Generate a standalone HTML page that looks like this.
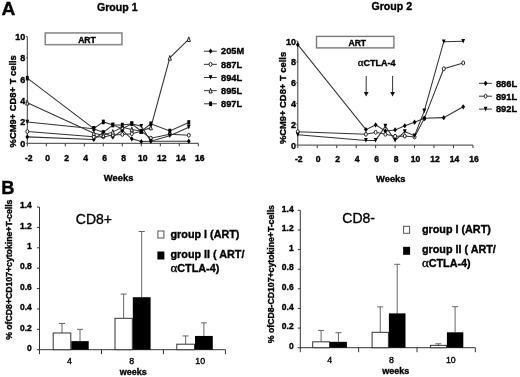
<!DOCTYPE html>
<html><head><meta charset="utf-8"><style>
html,body{margin:0;padding:0;background:#fff;}
svg{display:block;filter:grayscale(1);}
text{font-family:"Liberation Sans", sans-serif;fill:#000;stroke:#000;stroke-width:0.35px;}
</style></head><body>
<svg width="520" height="377" viewBox="0 0 520 377">
<rect width="520" height="377" fill="#fff"/>
<text x="1.50" y="14.60" font-size="19.2" font-weight="bold" text-anchor="start" >A</text>
<text x="1.20" y="193.80" font-size="18.3" font-weight="bold" text-anchor="start" >B</text>
<text x="117.30" y="10.80" font-size="10.6" font-weight="bold" text-anchor="middle" >Group 1</text>
<path d="M27.30 36.50V143.30H198.30" fill="none" stroke="#3a3a3a" stroke-width="1"/>
<path d="M27.30 143.30v3" stroke="#3a3a3a" stroke-width="1"/>
<path d="M46.30 143.30v3" stroke="#3a3a3a" stroke-width="1"/>
<path d="M65.30 143.30v3" stroke="#3a3a3a" stroke-width="1"/>
<path d="M84.30 143.30v3" stroke="#3a3a3a" stroke-width="1"/>
<path d="M103.30 143.30v3" stroke="#3a3a3a" stroke-width="1"/>
<path d="M122.30 143.30v3" stroke="#3a3a3a" stroke-width="1"/>
<path d="M141.30 143.30v3" stroke="#3a3a3a" stroke-width="1"/>
<path d="M160.30 143.30v3" stroke="#3a3a3a" stroke-width="1"/>
<path d="M179.30 143.30v3" stroke="#3a3a3a" stroke-width="1"/>
<path d="M198.30 143.30v3" stroke="#3a3a3a" stroke-width="1"/>
<path d="M25.80 143.30h1.5" stroke="#555" stroke-width="1"/>
<path d="M25.80 121.94h1.5" stroke="#555" stroke-width="1"/>
<path d="M25.80 100.58h1.5" stroke="#555" stroke-width="1"/>
<path d="M25.80 79.22h1.5" stroke="#555" stroke-width="1"/>
<path d="M25.80 57.86h1.5" stroke="#555" stroke-width="1"/>
<path d="M25.80 36.50h1.5" stroke="#555" stroke-width="1"/>
<text transform="translate(25.20 146.80) scale(1 1.1)" font-size="9.0" font-weight="bold" text-anchor="end" >0</text>
<text transform="translate(25.20 125.44) scale(1 1.1)" font-size="9.0" font-weight="bold" text-anchor="end" >2</text>
<text transform="translate(25.20 104.08) scale(1 1.1)" font-size="9.0" font-weight="bold" text-anchor="end" >4</text>
<text transform="translate(25.20 82.72) scale(1 1.1)" font-size="9.0" font-weight="bold" text-anchor="end" >6</text>
<text transform="translate(25.20 61.36) scale(1 1.1)" font-size="9.0" font-weight="bold" text-anchor="end" >8</text>
<text transform="translate(25.20 40.00) scale(1 1.1)" font-size="9.0" font-weight="bold" text-anchor="end" >10</text>
<text transform="translate(28.70 160.70) scale(1 1.15)" font-size="8.6" font-weight="bold" text-anchor="middle" >-2</text>
<text transform="translate(47.70 160.70) scale(1 1.15)" font-size="8.6" font-weight="bold" text-anchor="middle" >0</text>
<text transform="translate(66.70 160.70) scale(1 1.15)" font-size="8.6" font-weight="bold" text-anchor="middle" >2</text>
<text transform="translate(85.70 160.70) scale(1 1.15)" font-size="8.6" font-weight="bold" text-anchor="middle" >4</text>
<text transform="translate(104.70 160.70) scale(1 1.15)" font-size="8.6" font-weight="bold" text-anchor="middle" >6</text>
<text transform="translate(123.70 160.70) scale(1 1.15)" font-size="8.6" font-weight="bold" text-anchor="middle" >8</text>
<text transform="translate(142.70 160.70) scale(1 1.15)" font-size="8.6" font-weight="bold" text-anchor="middle" >10</text>
<text transform="translate(161.70 160.70) scale(1 1.15)" font-size="8.6" font-weight="bold" text-anchor="middle" >12</text>
<text transform="translate(180.70 160.70) scale(1 1.15)" font-size="8.6" font-weight="bold" text-anchor="middle" >14</text>
<text transform="translate(199.70 160.70) scale(1 1.15)" font-size="8.6" font-weight="bold" text-anchor="middle" >16</text>
<text x="118.60" y="180.50" font-size="9.4" font-weight="bold" text-anchor="middle" >Weeks</text>
<text transform="translate(15.5 101.3) rotate(-90)" x="0" y="0" font-size="9.4" font-weight="bold" text-anchor="middle">%CM9+ CD8+ T cells</text>
<rect x="45.25" y="32.95" width="76.7" height="11.7" fill="#fff" stroke="#8a8a8a" stroke-width="1.6"/>
<text x="87.00" y="42.60" font-size="8.6" font-weight="bold" text-anchor="middle" >ART</text>
<path d="M27.30 136.89L93.80 139.46L103.30 132.30L112.80 136.89L122.30 130.48L131.80 138.81L141.30 141.48L150.80 141.16L188.80 141.16" fill="none" stroke="#333" stroke-width="1.05"/>
<path d="M27.30 131.55L93.80 136.68L103.30 136.89L112.80 134.97L122.30 134.44L131.80 133.79L141.30 131.23L150.80 138.17L169.80 134.22L188.80 135.29" fill="none" stroke="#333" stroke-width="1.05"/>
<path d="M27.30 121.94L93.80 128.67L103.30 132.51L112.80 125.04L122.30 128.78L131.80 123.76L141.30 126.21L150.80 141.16L169.80 135.82L188.80 127.28" fill="none" stroke="#333" stroke-width="1.05"/>
<path d="M27.30 102.72L93.80 133.15L103.30 135.29L112.80 131.87L122.30 127.28L131.80 129.42L141.30 131.23L150.80 127.49L169.80 57.86L188.80 39.17" fill="none" stroke="#333" stroke-width="1.05"/>
<path d="M27.30 78.15L93.80 128.67L103.30 121.94L112.80 125.04L122.30 125.04L131.80 123.76L141.30 131.23L150.80 123.76L169.80 131.02L188.80 122.47" fill="none" stroke="#333" stroke-width="1.05"/>
<path d="M27.30 134.29L29.15 136.89L27.30 139.49L25.45 136.89Z" fill="#000"/>
<path d="M93.80 136.86L95.65 139.46L93.80 142.06L91.95 139.46Z" fill="#000"/>
<path d="M103.30 129.70L105.15 132.30L103.30 134.90L101.45 132.30Z" fill="#000"/>
<path d="M112.80 134.29L114.65 136.89L112.80 139.49L110.95 136.89Z" fill="#000"/>
<path d="M122.30 127.88L124.15 130.48L122.30 133.08L120.45 130.48Z" fill="#000"/>
<path d="M131.80 136.21L133.65 138.81L131.80 141.41L129.95 138.81Z" fill="#000"/>
<path d="M141.30 138.88L143.15 141.48L141.30 144.08L139.45 141.48Z" fill="#000"/>
<path d="M150.80 138.56L152.65 141.16L150.80 143.76L148.95 141.16Z" fill="#000"/>
<path d="M188.80 138.56L190.65 141.16L188.80 143.76L186.95 141.16Z" fill="#000"/>
<ellipse cx="27.30" cy="131.55" rx="1.45" ry="1.95" fill="#fff" stroke="#222" stroke-width="1"/>
<ellipse cx="93.80" cy="136.68" rx="1.45" ry="1.95" fill="#fff" stroke="#222" stroke-width="1"/>
<ellipse cx="103.30" cy="136.89" rx="1.45" ry="1.95" fill="#fff" stroke="#222" stroke-width="1"/>
<ellipse cx="112.80" cy="134.97" rx="1.45" ry="1.95" fill="#fff" stroke="#222" stroke-width="1"/>
<ellipse cx="122.30" cy="134.44" rx="1.45" ry="1.95" fill="#fff" stroke="#222" stroke-width="1"/>
<ellipse cx="131.80" cy="133.79" rx="1.45" ry="1.95" fill="#fff" stroke="#222" stroke-width="1"/>
<ellipse cx="141.30" cy="131.23" rx="1.45" ry="1.95" fill="#fff" stroke="#222" stroke-width="1"/>
<ellipse cx="150.80" cy="138.17" rx="1.45" ry="1.95" fill="#fff" stroke="#222" stroke-width="1"/>
<ellipse cx="169.80" cy="134.22" rx="1.45" ry="1.95" fill="#fff" stroke="#222" stroke-width="1"/>
<ellipse cx="188.80" cy="135.29" rx="1.45" ry="1.95" fill="#fff" stroke="#222" stroke-width="1"/>
<path d="M25.45 119.64L29.15 119.64L27.30 124.24Z" fill="#000"/>
<path d="M91.95 126.37L95.65 126.37L93.80 130.97Z" fill="#000"/>
<path d="M101.45 130.21L105.15 130.21L103.30 134.81Z" fill="#000"/>
<path d="M110.95 122.74L114.65 122.74L112.80 127.34Z" fill="#000"/>
<path d="M120.45 126.48L124.15 126.48L122.30 131.08Z" fill="#000"/>
<path d="M129.95 121.46L133.65 121.46L131.80 126.06Z" fill="#000"/>
<path d="M139.45 123.91L143.15 123.91L141.30 128.51Z" fill="#000"/>
<path d="M148.95 138.86L152.65 138.86L150.80 143.46Z" fill="#000"/>
<path d="M167.95 133.52L171.65 133.52L169.80 138.12Z" fill="#000"/>
<path d="M186.95 124.98L190.65 124.98L188.80 129.58Z" fill="#000"/>
<path d="M27.30 100.42L28.90 105.02L25.70 105.02Z" fill="#fff" stroke="#222" stroke-width="1"/>
<path d="M93.80 130.85L95.40 135.45L92.20 135.45Z" fill="#fff" stroke="#222" stroke-width="1"/>
<path d="M103.30 132.99L104.90 137.59L101.70 137.59Z" fill="#fff" stroke="#222" stroke-width="1"/>
<path d="M112.80 129.57L114.40 134.17L111.20 134.17Z" fill="#fff" stroke="#222" stroke-width="1"/>
<path d="M122.30 124.98L123.90 129.58L120.70 129.58Z" fill="#fff" stroke="#222" stroke-width="1"/>
<path d="M131.80 127.12L133.40 131.72L130.20 131.72Z" fill="#fff" stroke="#222" stroke-width="1"/>
<path d="M141.30 128.93L142.90 133.53L139.70 133.53Z" fill="#fff" stroke="#222" stroke-width="1"/>
<path d="M150.80 125.19L152.40 129.79L149.20 129.79Z" fill="#fff" stroke="#222" stroke-width="1"/>
<path d="M169.80 55.56L171.40 60.16L168.20 60.16Z" fill="#fff" stroke="#222" stroke-width="1"/>
<path d="M188.80 36.87L190.40 41.47L187.20 41.47Z" fill="#fff" stroke="#222" stroke-width="1"/>
<rect x="25.85" y="75.85" width="2.90" height="4.60" fill="#000"/>
<rect x="92.35" y="126.37" width="2.90" height="4.60" fill="#000"/>
<rect x="101.85" y="119.64" width="2.90" height="4.60" fill="#000"/>
<rect x="111.35" y="122.74" width="2.90" height="4.60" fill="#000"/>
<rect x="120.85" y="122.74" width="2.90" height="4.60" fill="#000"/>
<rect x="130.35" y="121.46" width="2.90" height="4.60" fill="#000"/>
<rect x="139.85" y="128.93" width="2.90" height="4.60" fill="#000"/>
<rect x="149.35" y="121.46" width="2.90" height="4.60" fill="#000"/>
<rect x="168.35" y="128.72" width="2.90" height="4.60" fill="#000"/>
<rect x="187.35" y="120.17" width="2.90" height="4.60" fill="#000"/>
<path d="M204 51.20H216.8" stroke="#333" stroke-width="1"/>
<path d="M210.60 48.60L212.45 51.20L210.60 53.80L208.75 51.20Z" fill="#000"/>
<text transform="translate(221.00 54.40) scale(1 1.06)" font-size="9.3" font-weight="bold" text-anchor="start" >205M</text>
<path d="M204 64.35H216.8" stroke="#333" stroke-width="1"/>
<ellipse cx="210.60" cy="64.35" rx="1.45" ry="1.95" fill="#fff" stroke="#222" stroke-width="1"/>
<text transform="translate(221.00 67.55) scale(1 1.06)" font-size="9.3" font-weight="bold" text-anchor="start" >887L</text>
<path d="M204 77.50H216.8" stroke="#333" stroke-width="1"/>
<path d="M208.75 75.20L212.45 75.20L210.60 79.80Z" fill="#000"/>
<text transform="translate(221.00 80.70) scale(1 1.06)" font-size="9.3" font-weight="bold" text-anchor="start" >894L</text>
<path d="M204 90.65H216.8" stroke="#333" stroke-width="1"/>
<path d="M210.60 88.35L212.20 92.95L209.00 92.95Z" fill="#fff" stroke="#222" stroke-width="1"/>
<text transform="translate(221.00 93.85) scale(1 1.06)" font-size="9.3" font-weight="bold" text-anchor="start" >895L</text>
<path d="M204 103.80H216.8" stroke="#333" stroke-width="1"/>
<rect x="209.15" y="101.50" width="2.90" height="4.60" fill="#000"/>
<text transform="translate(221.00 107.00) scale(1 1.06)" font-size="9.3" font-weight="bold" text-anchor="start" >897L</text>
<text x="391.80" y="9.80" font-size="10.6" font-weight="bold" text-anchor="middle" >Group 2</text>
<path d="M297.80 41.10V145.10H472.94" fill="none" stroke="#3a3a3a" stroke-width="1"/>
<path d="M297.80 145.10v3" stroke="#3a3a3a" stroke-width="1"/>
<path d="M317.26 145.10v3" stroke="#3a3a3a" stroke-width="1"/>
<path d="M336.72 145.10v3" stroke="#3a3a3a" stroke-width="1"/>
<path d="M356.18 145.10v3" stroke="#3a3a3a" stroke-width="1"/>
<path d="M375.64 145.10v3" stroke="#3a3a3a" stroke-width="1"/>
<path d="M395.10 145.10v3" stroke="#3a3a3a" stroke-width="1"/>
<path d="M414.56 145.10v3" stroke="#3a3a3a" stroke-width="1"/>
<path d="M434.02 145.10v3" stroke="#3a3a3a" stroke-width="1"/>
<path d="M453.48 145.10v3" stroke="#3a3a3a" stroke-width="1"/>
<path d="M472.94 145.10v3" stroke="#3a3a3a" stroke-width="1"/>
<path d="M296.30 145.10h1.5" stroke="#555" stroke-width="1"/>
<path d="M296.30 124.30h1.5" stroke="#555" stroke-width="1"/>
<path d="M296.30 103.50h1.5" stroke="#555" stroke-width="1"/>
<path d="M296.30 82.70h1.5" stroke="#555" stroke-width="1"/>
<path d="M296.30 61.90h1.5" stroke="#555" stroke-width="1"/>
<path d="M296.30 41.10h1.5" stroke="#555" stroke-width="1"/>
<text transform="translate(295.90 148.60) scale(1 1.1)" font-size="9.0" font-weight="bold" text-anchor="end" >0</text>
<text transform="translate(295.90 127.80) scale(1 1.1)" font-size="9.0" font-weight="bold" text-anchor="end" >2</text>
<text transform="translate(295.90 107.00) scale(1 1.1)" font-size="9.0" font-weight="bold" text-anchor="end" >4</text>
<text transform="translate(295.90 86.20) scale(1 1.1)" font-size="9.0" font-weight="bold" text-anchor="end" >6</text>
<text transform="translate(295.90 65.40) scale(1 1.1)" font-size="9.0" font-weight="bold" text-anchor="end" >8</text>
<text transform="translate(295.90 44.60) scale(1 1.1)" font-size="9.0" font-weight="bold" text-anchor="end" >10</text>
<text transform="translate(298.80 162.40) scale(1 1.15)" font-size="8.6" font-weight="bold" text-anchor="middle" >-2</text>
<text transform="translate(318.26 162.40) scale(1 1.15)" font-size="8.6" font-weight="bold" text-anchor="middle" >0</text>
<text transform="translate(337.72 162.40) scale(1 1.15)" font-size="8.6" font-weight="bold" text-anchor="middle" >2</text>
<text transform="translate(357.18 162.40) scale(1 1.15)" font-size="8.6" font-weight="bold" text-anchor="middle" >4</text>
<text transform="translate(376.64 162.40) scale(1 1.15)" font-size="8.6" font-weight="bold" text-anchor="middle" >6</text>
<text transform="translate(396.10 162.40) scale(1 1.15)" font-size="8.6" font-weight="bold" text-anchor="middle" >8</text>
<text transform="translate(415.56 162.40) scale(1 1.15)" font-size="8.6" font-weight="bold" text-anchor="middle" >10</text>
<text transform="translate(435.02 162.40) scale(1 1.15)" font-size="8.6" font-weight="bold" text-anchor="middle" >12</text>
<text transform="translate(454.48 162.40) scale(1 1.15)" font-size="8.6" font-weight="bold" text-anchor="middle" >14</text>
<text transform="translate(473.94 162.40) scale(1 1.15)" font-size="8.6" font-weight="bold" text-anchor="middle" >16</text>
<text x="390.80" y="181.50" font-size="9.4" font-weight="bold" text-anchor="middle" >Weeks</text>
<text transform="translate(285.5 98.0) rotate(-90)" x="0" y="0" font-size="9.4" font-weight="bold" text-anchor="middle">%CM9+ CD8+ T cells</text>
<rect x="316.5" y="36.4" width="77.4" height="11.5" fill="#fff" stroke="#7a7a7a" stroke-width="1.4"/>
<text x="357.30" y="45.70" font-size="8.6" font-weight="bold" text-anchor="middle" >ART</text>
<text x="357.80" y="66.30" font-size="9.0" font-weight="bold" text-anchor="start" ><tspan style="font-family:'Liberation Serif',serif" font-weight="normal" font-size="11">&#945;</tspan>CTLA-4</text>
<path d="M366.2 76V92" stroke="#333" stroke-width="1"/>
<path d="M363.8 92H368.59999999999997L366.2 96.6Z" fill="#111"/>
<path d="M392.6 76V92" stroke="#333" stroke-width="1"/>
<path d="M390.20000000000005 92H395.0L392.6 96.6Z" fill="#111"/>
<path d="M297.80 44.64L365.91 129.60L375.64 124.92L385.37 130.96L395.10 129.92L404.83 125.76L414.56 122.22L424.29 118.16L443.75 117.64L463.21 106.83" fill="none" stroke="#333" stroke-width="1.05"/>
<path d="M297.80 131.68L365.91 134.28L375.64 132.31L385.37 134.28L395.10 136.26L404.83 136.05L414.56 136.99L424.29 118.58L443.75 68.76L463.21 62.94" fill="none" stroke="#333" stroke-width="1.05"/>
<path d="M297.80 134.70L365.91 140.42L375.64 140.42L385.37 126.17L395.10 140.42L404.83 131.58L414.56 135.74L424.29 110.88L443.75 41.72L463.21 41.31" fill="none" stroke="#333" stroke-width="1.05"/>
<ellipse cx="297.80" cy="131.68" rx="1.45" ry="1.95" fill="#fff" stroke="#222" stroke-width="1"/>
<ellipse cx="365.91" cy="134.28" rx="1.45" ry="1.95" fill="#fff" stroke="#222" stroke-width="1"/>
<ellipse cx="375.64" cy="132.31" rx="1.45" ry="1.95" fill="#fff" stroke="#222" stroke-width="1"/>
<ellipse cx="385.37" cy="134.28" rx="1.45" ry="1.95" fill="#fff" stroke="#222" stroke-width="1"/>
<ellipse cx="395.10" cy="136.26" rx="1.45" ry="1.95" fill="#fff" stroke="#222" stroke-width="1"/>
<ellipse cx="404.83" cy="136.05" rx="1.45" ry="1.95" fill="#fff" stroke="#222" stroke-width="1"/>
<ellipse cx="414.56" cy="136.99" rx="1.45" ry="1.95" fill="#fff" stroke="#222" stroke-width="1"/>
<ellipse cx="424.29" cy="118.58" rx="1.45" ry="1.95" fill="#fff" stroke="#222" stroke-width="1"/>
<ellipse cx="443.75" cy="68.76" rx="1.45" ry="1.95" fill="#fff" stroke="#222" stroke-width="1"/>
<ellipse cx="463.21" cy="62.94" rx="1.45" ry="1.95" fill="#fff" stroke="#222" stroke-width="1"/>
<path d="M295.95 132.40L299.65 132.40L297.80 137.00Z" fill="#000"/>
<path d="M364.06 138.12L367.76 138.12L365.91 142.72Z" fill="#000"/>
<path d="M373.79 138.12L377.49 138.12L375.64 142.72Z" fill="#000"/>
<path d="M383.52 123.87L387.22 123.87L385.37 128.47Z" fill="#000"/>
<path d="M393.25 138.12L396.95 138.12L395.10 142.72Z" fill="#000"/>
<path d="M402.98 129.28L406.68 129.28L404.83 133.88Z" fill="#000"/>
<path d="M412.71 133.44L416.41 133.44L414.56 138.04Z" fill="#000"/>
<path d="M422.44 108.58L426.14 108.58L424.29 113.18Z" fill="#000"/>
<path d="M441.90 39.42L445.60 39.42L443.75 44.02Z" fill="#000"/>
<path d="M461.36 39.01L465.06 39.01L463.21 43.61Z" fill="#000"/>
<path d="M297.80 42.04L299.65 44.64L297.80 47.24L295.95 44.64Z" fill="#000"/>
<path d="M365.91 127.00L367.76 129.60L365.91 132.20L364.06 129.60Z" fill="#000"/>
<path d="M375.64 122.32L377.49 124.92L375.64 127.52L373.79 124.92Z" fill="#000"/>
<path d="M385.37 128.36L387.22 130.96L385.37 133.56L383.52 130.96Z" fill="#000"/>
<path d="M395.10 127.32L396.95 129.92L395.10 132.52L393.25 129.92Z" fill="#000"/>
<path d="M404.83 123.16L406.68 125.76L404.83 128.36L402.98 125.76Z" fill="#000"/>
<path d="M414.56 119.62L416.41 122.22L414.56 124.82L412.71 122.22Z" fill="#000"/>
<path d="M424.29 115.56L426.14 118.16L424.29 120.76L422.44 118.16Z" fill="#000"/>
<path d="M443.75 115.04L445.60 117.64L443.75 120.24L441.90 117.64Z" fill="#000"/>
<path d="M463.21 104.23L465.06 106.83L463.21 109.43L461.36 106.83Z" fill="#000"/>
<path d="M479 83.30H491.9" stroke="#333" stroke-width="1"/>
<path d="M485.60 80.70L487.45 83.30L485.60 85.90L483.75 83.30Z" fill="#000"/>
<text transform="translate(495.90 86.60) scale(1 1.06)" font-size="9.3" font-weight="bold" text-anchor="start" >886L</text>
<path d="M479 96.20H491.9" stroke="#333" stroke-width="1"/>
<ellipse cx="485.60" cy="96.20" rx="1.45" ry="1.95" fill="#fff" stroke="#222" stroke-width="1"/>
<text transform="translate(495.90 99.50) scale(1 1.06)" font-size="9.3" font-weight="bold" text-anchor="start" >891L</text>
<path d="M479 109.10H491.9" stroke="#333" stroke-width="1"/>
<path d="M483.75 106.80L487.45 106.80L485.60 111.40Z" fill="#000"/>
<text transform="translate(495.90 112.40) scale(1 1.06)" font-size="9.3" font-weight="bold" text-anchor="start" >892L</text>
<path d="M39.50 207.04V354.20" stroke="#333" stroke-width="1"/>
<path d="M39.50 349.70H225.41" stroke="#333" stroke-width="1"/>
<path d="M101.47 349.70v4.5" stroke="#333" stroke-width="1"/>
<path d="M163.44 349.70v4.5" stroke="#333" stroke-width="1"/>
<path d="M225.41 349.70v4.5" stroke="#333" stroke-width="1"/>
<path d="M37.00 349.70H39.50" stroke="#333" stroke-width="1"/>
<text x="31.80" y="350.90" font-size="8.5" font-weight="bold" text-anchor="end" >0</text>
<path d="M37.00 329.32H39.50" stroke="#333" stroke-width="1"/>
<text x="31.80" y="330.52" font-size="8.5" font-weight="bold" text-anchor="end" >0.2</text>
<path d="M37.00 308.94H39.50" stroke="#333" stroke-width="1"/>
<text x="31.80" y="310.14" font-size="8.5" font-weight="bold" text-anchor="end" >0.4</text>
<path d="M37.00 288.56H39.50" stroke="#333" stroke-width="1"/>
<text x="31.80" y="289.76" font-size="8.5" font-weight="bold" text-anchor="end" >0.6</text>
<path d="M37.00 268.18H39.50" stroke="#333" stroke-width="1"/>
<text x="31.80" y="269.38" font-size="8.5" font-weight="bold" text-anchor="end" >0.8</text>
<path d="M37.00 247.80H39.50" stroke="#333" stroke-width="1"/>
<text x="31.80" y="249.00" font-size="8.5" font-weight="bold" text-anchor="end" >1</text>
<path d="M37.00 227.42H39.50" stroke="#333" stroke-width="1"/>
<text x="31.80" y="228.62" font-size="8.5" font-weight="bold" text-anchor="end" >1.2</text>
<path d="M37.00 207.04H39.50" stroke="#333" stroke-width="1"/>
<text x="31.80" y="208.24" font-size="8.5" font-weight="bold" text-anchor="end" >1.4</text>
<path d="M62.00 332.99V323.41M59.00 323.41H65.00" stroke="#666" stroke-width="1"/>
<path d="M80.00 341.14V329.32M77.00 329.32H83.00" stroke="#666" stroke-width="1"/>
<rect x="53.20" y="332.99" width="17.60" height="16.71" fill="#fff" stroke="#333" stroke-width="1"/>
<rect x="71.30" y="341.14" width="17.40" height="8.56" fill="#000"/>
<path d="M123.65 318.31V294.06M120.65 294.06H126.65" stroke="#666" stroke-width="1"/>
<path d="M141.70 297.22V231.50M138.70 231.50H144.70" stroke="#666" stroke-width="1"/>
<rect x="115.00" y="318.31" width="17.30" height="31.39" fill="#fff" stroke="#333" stroke-width="1"/>
<rect x="132.80" y="297.22" width="17.80" height="52.48" fill="#000"/>
<path d="M185.65 344.20V335.94M182.65 335.94H188.65" stroke="#666" stroke-width="1"/>
<path d="M203.90 335.94V322.90M200.90 322.90H206.90" stroke="#666" stroke-width="1"/>
<rect x="176.80" y="344.20" width="17.70" height="5.50" fill="#fff" stroke="#333" stroke-width="1"/>
<rect x="195.00" y="335.94" width="17.80" height="13.76" fill="#000"/>
<text x="69.40" y="363.60" font-size="8.8" font-weight="normal" text-anchor="middle" >4</text>
<text x="131.60" y="363.60" font-size="8.8" font-weight="normal" text-anchor="middle" >8</text>
<text x="200.20" y="363.60" font-size="8.8" font-weight="normal" text-anchor="middle" >10</text>
<text x="133.30" y="374.60" font-size="9.0" font-weight="bold" text-anchor="middle" >weeks</text>
<text transform="translate(11.5 269.7) rotate(-90)" font-size="8.7" font-weight="bold" text-anchor="middle">% ofCD8+CD107+cytokine+T-cells</text>
<text x="75.80" y="223.80" font-size="14" font-weight="normal" text-anchor="start" >CD8+</text>
<rect x="157.90" y="231.00" width="6" height="7" fill="#fff" stroke="#555" stroke-width="1"/>
<rect x="157.40" y="251.50" width="7" height="8" fill="#000"/>
<text x="170.50" y="238.00" font-size="10.8" font-weight="bold" text-anchor="start" >group I (ART)</text>
<text x="170.50" y="258.00" font-size="10.8" font-weight="bold" text-anchor="start" >group II ( ART/</text>
<text x="170.50" y="271.80" font-size="10.8" font-weight="bold" text-anchor="start" ><tspan style="font-family:'Liberation Serif',serif" font-weight="normal" font-size="13">&#945;</tspan>CTLA-4)</text>
<path d="M300.30 210.36V352.20" stroke="#333" stroke-width="1"/>
<path d="M300.30 347.70H475.35" stroke="#333" stroke-width="1"/>
<path d="M358.65 347.70v4.5" stroke="#333" stroke-width="1"/>
<path d="M417.00 347.70v4.5" stroke="#333" stroke-width="1"/>
<path d="M475.35 347.70v4.5" stroke="#333" stroke-width="1"/>
<path d="M297.80 347.70H300.30" stroke="#333" stroke-width="1"/>
<text x="293.70" y="348.90" font-size="8.5" font-weight="bold" text-anchor="end" >0</text>
<path d="M297.80 328.08H300.30" stroke="#333" stroke-width="1"/>
<text x="293.70" y="329.28" font-size="8.5" font-weight="bold" text-anchor="end" >0.2</text>
<path d="M297.80 308.46H300.30" stroke="#333" stroke-width="1"/>
<text x="293.70" y="309.66" font-size="8.5" font-weight="bold" text-anchor="end" >0.4</text>
<path d="M297.80 288.84H300.30" stroke="#333" stroke-width="1"/>
<text x="293.70" y="290.04" font-size="8.5" font-weight="bold" text-anchor="end" >0.6</text>
<path d="M297.80 269.22H300.30" stroke="#333" stroke-width="1"/>
<text x="293.70" y="270.42" font-size="8.5" font-weight="bold" text-anchor="end" >0.8</text>
<path d="M297.80 249.60H300.30" stroke="#333" stroke-width="1"/>
<text x="293.70" y="250.80" font-size="8.5" font-weight="bold" text-anchor="end" >1</text>
<path d="M297.80 229.98H300.30" stroke="#333" stroke-width="1"/>
<text x="293.70" y="231.18" font-size="8.5" font-weight="bold" text-anchor="end" >1.2</text>
<path d="M297.80 210.36H300.30" stroke="#333" stroke-width="1"/>
<text x="293.70" y="211.56" font-size="8.5" font-weight="bold" text-anchor="end" >1.4</text>
<path d="M321.10 341.81V330.43M318.10 330.43H324.10" stroke="#666" stroke-width="1"/>
<path d="M338.45 341.81V332.69M335.45 332.69H341.45" stroke="#666" stroke-width="1"/>
<rect x="312.70" y="341.81" width="16.80" height="5.89" fill="#fff" stroke="#333" stroke-width="1"/>
<rect x="330.00" y="341.81" width="16.90" height="5.89" fill="#000"/>
<path d="M380.25 332.30V306.89M377.25 306.89H383.25" stroke="#666" stroke-width="1"/>
<path d="M397.20 313.37V264.31M394.20 264.31H400.20" stroke="#666" stroke-width="1"/>
<rect x="372.10" y="332.30" width="16.30" height="15.40" fill="#fff" stroke="#333" stroke-width="1"/>
<rect x="388.90" y="313.37" width="16.60" height="34.33" fill="#000"/>
<path d="M438.40 345.35V343.78M435.40 343.78H441.40" stroke="#666" stroke-width="1"/>
<path d="M455.10 332.30V306.69M452.10 306.69H458.10" stroke="#666" stroke-width="1"/>
<rect x="430.40" y="345.35" width="16.00" height="2.35" fill="#fff" stroke="#333" stroke-width="1"/>
<rect x="446.90" y="332.30" width="16.40" height="15.40" fill="#000"/>
<text x="329.60" y="362.80" font-size="8.8" font-weight="normal" text-anchor="middle" >4</text>
<text x="391.50" y="362.80" font-size="8.8" font-weight="normal" text-anchor="middle" >8</text>
<text x="450.80" y="362.80" font-size="8.8" font-weight="normal" text-anchor="middle" >10</text>
<text x="395.80" y="374.00" font-size="9.0" font-weight="bold" text-anchor="middle" >weeks</text>
<text transform="translate(274.4 274.1) rotate(-90)" font-size="8.7" font-weight="bold" text-anchor="middle">% ofCD8-CD107+cytokine+T-cells</text>
<text x="342.30" y="223.10" font-size="14" font-weight="normal" text-anchor="start" >CD8-</text>
<rect x="403.60" y="226.30" width="6" height="7" fill="#fff" stroke="#555" stroke-width="1"/>
<rect x="403.10" y="246.80" width="7" height="8" fill="#000"/>
<text x="421.90" y="233.30" font-size="10.8" font-weight="bold" text-anchor="start" >group I (ART)</text>
<text x="421.90" y="253.30" font-size="10.8" font-weight="bold" text-anchor="start" >group II ( ART/</text>
<text x="421.90" y="267.10" font-size="10.8" font-weight="bold" text-anchor="start" ><tspan style="font-family:'Liberation Serif',serif" font-weight="normal" font-size="13">&#945;</tspan>CTLA-4)</text>
</svg>
</body></html>
